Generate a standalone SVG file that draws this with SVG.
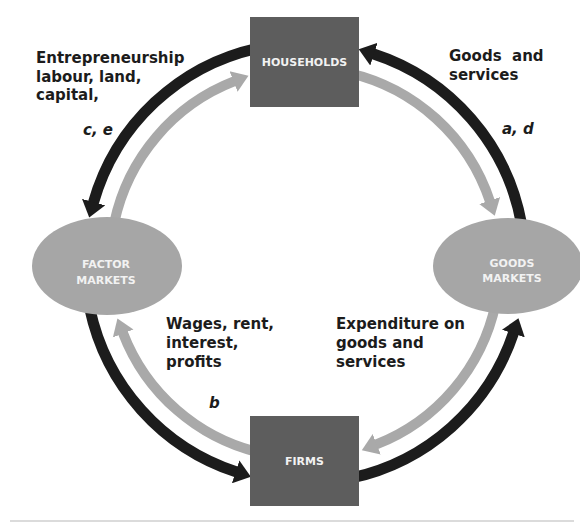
<svg xmlns="http://www.w3.org/2000/svg" width="580" height="523" viewBox="0 0 580 523">
  <style>
    .flowK { fill: none; stroke: #1c1c1c; stroke-width: 11; marker-end: url(#headK); }
    .flowG { fill: none; stroke: #a9a9a9; stroke-width: 10; marker-end: url(#headG); }
    .box { fill: #5d5d5d; }
    .mkt { fill: #a6a6a6; }
    .nodeText { font-family: "DejaVu Sans", "Liberation Sans", sans-serif; font-weight: bold; font-size: 11px; fill: #f2f2f2; text-anchor: middle; }
    .label { font-family: "DejaVu Sans", "Liberation Sans", sans-serif; font-weight: bold; font-size: 15px; fill: #1c1c1c; }
    .tag { font-family: "DejaVu Sans", "Liberation Sans", sans-serif; font-weight: bold; font-style: italic; font-size: 15px; fill: #1c1c1c; }
  </style>
  <defs>
    <marker id="headK" markerUnits="userSpaceOnUse" markerWidth="18" markerHeight="24" refX="1" refY="12" orient="auto" viewBox="0 0 18 24">
      <path d="M0,0 L16,12 L0,24 Z" fill="#1c1c1c"/>
    </marker>
    <marker id="headG" markerUnits="userSpaceOnUse" markerWidth="18" markerHeight="24" refX="1" refY="12" orient="auto" viewBox="0 0 18 24">
      <path d="M0,1 L16,12 L0,23 Z" fill="#a9a9a9"/>
    </marker>
  </defs>

  <rect width="580" height="523" fill="#ffffff"/>

  <!-- circular flow arcs: black outer ring r=220, grey inner ring r=195, centred at (305,263) -->
  <g id="connectors">
    <path class="flowK" d="M259.3,47.8 A220,220 0 0 0 93.3,203.1"/>
    <path class="flowG" d="M114.3,222.5 A195,195 0 0 1 234.5,81.2"/>
    <path class="flowK" d="M521.7,224.8 A220,220 0 0 0 373.0,53.8"/>
    <path class="flowG" d="M348.9,73.0 A195,195 0 0 1 490.0,201.5"/>
    <path class="flowK" d="M89.8,308.7 A220,220 0 0 0 236.6,472.1"/>
    <path class="flowG" d="M261.1,453.0 A195,195 0 0 1 122.8,332.6"/>
    <path class="flowK" d="M350.7,478.2 A220,220 0 0 0 513.7,332.6"/>
    <path class="flowG" d="M495.7,303.5 A195,195 0 0 1 375.8,444.7"/>
  </g>

  <g id="households">
    <rect class="box" x="250" y="17" width="109" height="90"/>
    <text class="nodeText" x="304.5" y="66">HOUSEHOLDS</text>
  </g>

  <g id="firms">
    <rect class="box" x="250" y="416" width="109" height="90"/>
    <text class="nodeText" x="304.5" y="465">FIRMS</text>
  </g>

  <g id="factor-markets">
    <ellipse class="mkt" cx="107" cy="266" rx="75" ry="49"/>
    <text class="nodeText" x="106" y="268">FACTOR</text>
    <text class="nodeText" x="106" y="284">MARKETS</text>
  </g>

  <g id="goods-markets">
    <ellipse class="mkt" cx="508" cy="266" rx="75" ry="48"/>
    <text class="nodeText" x="512" y="267">GOODS</text>
    <text class="nodeText" x="512" y="282">MARKETS</text>
  </g>

  <!-- flow labels -->
  <g id="labels">
    <text class="label" x="36" y="63">Entrepreneurship</text>
    <text class="label" x="36" y="82">labour, land,</text>
    <text class="label" x="36" y="100">capital,</text>
    <text class="tag" x="83" y="135">c, e</text>

    <text class="label" x="449" y="61" xml:space="preserve">Goods  and</text>
    <text class="label" x="449" y="80">services</text>
    <text class="tag" x="502" y="134">a, d</text>

    <text class="label" x="166" y="329">Wages, rent,</text>
    <text class="label" x="166" y="348">interest,</text>
    <text class="label" x="166" y="367">profits</text>
    <text class="tag" x="209" y="408">b</text>

    <text class="label" x="336" y="329">Expenditure on</text>
    <text class="label" x="336" y="348">goods and</text>
    <text class="label" x="336" y="367">services</text>
  </g>

  <line x1="10" y1="521" x2="574" y2="521" stroke="#cfcfcf" stroke-width="1.5"/>
</svg>
